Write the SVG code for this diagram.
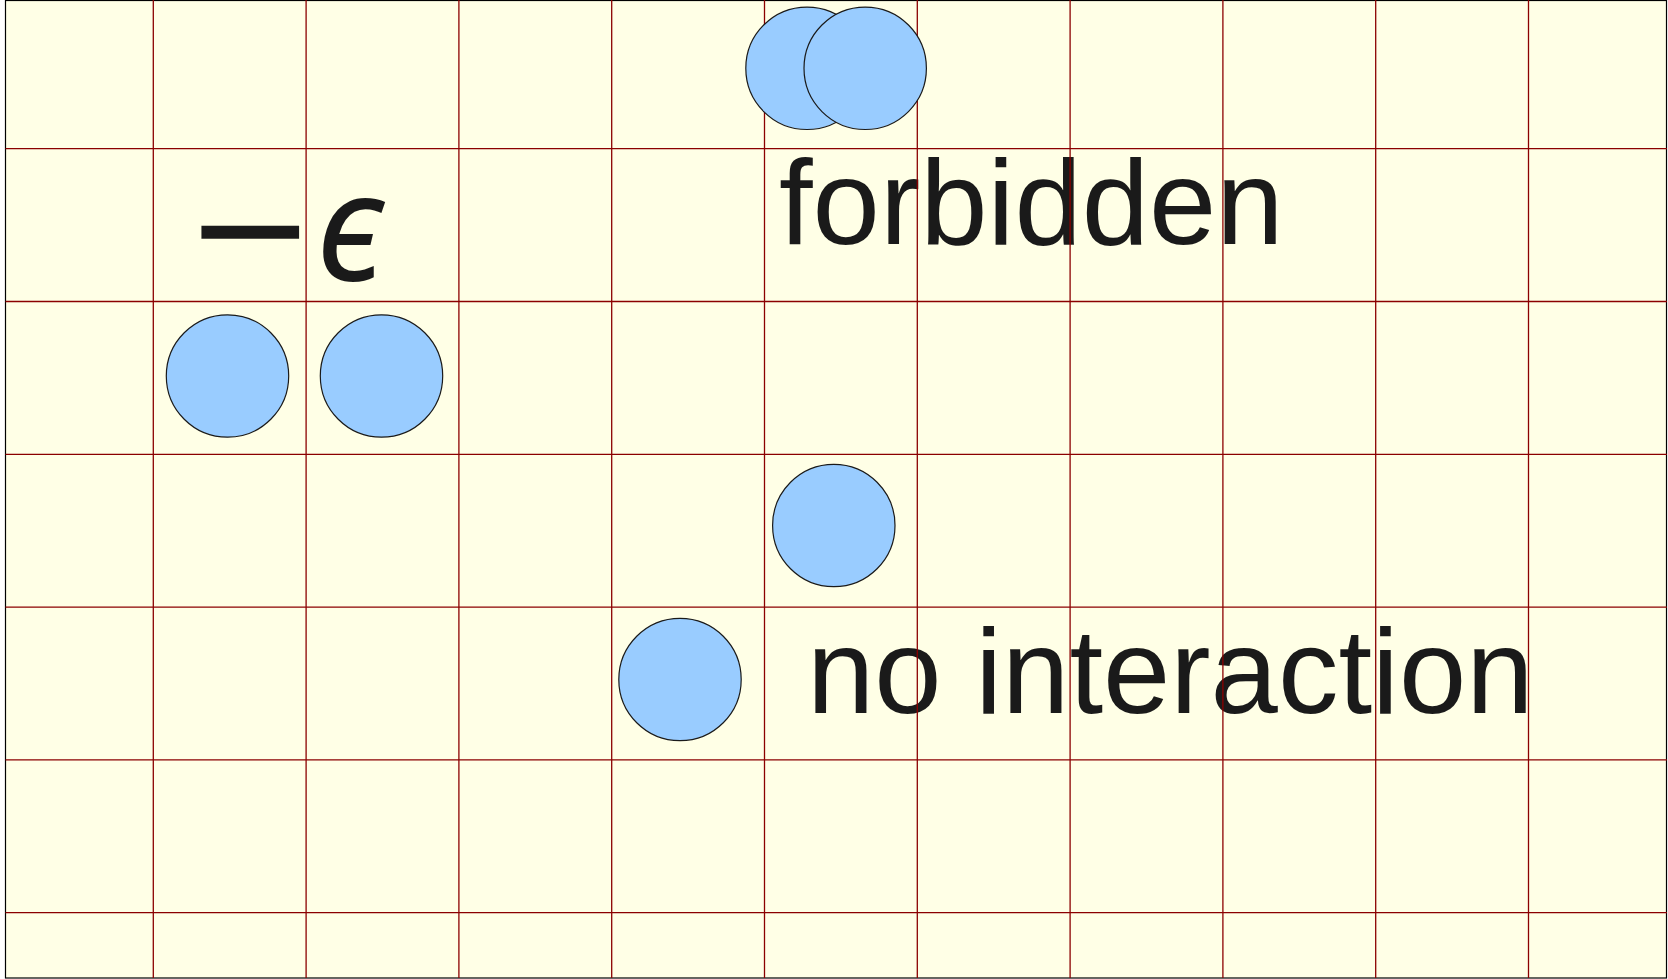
<svg xmlns="http://www.w3.org/2000/svg" width="1668" height="979" viewBox="0 0 1668 979">
<style>
.bg{fill:#ffffe6;stroke:#000;stroke-width:1.2}
.grid line{stroke:#8b0000;stroke-width:1.3}
.ball{fill:#99ccff;stroke:#1a1a1a;stroke-width:1.2}
.lbl{font-family:"Liberation Sans",Arial,sans-serif;font-size:121px;fill:#1a1a1a}
.math{font-family:"DejaVu Sans",sans-serif;font-size:156px;fill:#1a1a1a}
.eps{font-family:"Noto Sans","DejaVu Sans",sans-serif;font-size:150px;font-style:italic;fill:#1a1a1a}
</style>
<rect class="bg" x="5.5" y="0.5" width="1661" height="977.5"/>
<g id="label-epsilon">
<text class="math" x="185" y="281">−</text>
<text class="eps" x="316" y="281">ϵ</text>
</g>
<g id="label-forbidden"><text class="lbl" x="779" y="244">forbidden</text></g>
<g id="label-nointeraction"><text class="lbl" x="807" y="713">no interaction</text></g>
<g class="grid" id="grid">
<line x1="153.3" y1="0" x2="153.3" y2="978"/>
<line x1="306.1" y1="0" x2="306.1" y2="978"/>
<line x1="458.9" y1="0" x2="458.9" y2="978"/>
<line x1="611.7" y1="0" x2="611.7" y2="978"/>
<line x1="764.5" y1="0" x2="764.5" y2="978"/>
<line x1="917.3" y1="0" x2="917.3" y2="978"/>
<line x1="1070.1" y1="0" x2="1070.1" y2="978"/>
<line x1="1222.9" y1="0" x2="1222.9" y2="978"/>
<line x1="1375.7" y1="0" x2="1375.7" y2="978"/>
<line x1="1528.5" y1="0" x2="1528.5" y2="978"/>
<line x1="5.5" y1="148.7" x2="1667" y2="148.7"/>
<line x1="5.5" y1="301.5" x2="1667" y2="301.5"/>
<line x1="5.5" y1="454.3" x2="1667" y2="454.3"/>
<line x1="5.5" y1="607.1" x2="1667" y2="607.1"/>
<line x1="5.5" y1="759.9" x2="1667" y2="759.9"/>
<line x1="5.5" y1="912.7" x2="1667" y2="912.7"/>
</g>
<g id="ball-pair-left-a"><circle class="ball" cx="227.5" cy="376" r="61.2"/></g>
<g id="ball-pair-left-b"><circle class="ball" cx="381.5" cy="376" r="61.2"/></g>
<g id="ball-forbidden-a"><circle class="ball" cx="807" cy="68.3" r="61.2"/></g>
<g id="ball-forbidden-b"><circle class="ball" cx="865.2" cy="68.3" r="61.2"/></g>
<g id="ball-nointeraction-a"><circle class="ball" cx="833.8" cy="525.5" r="61.2"/></g>
<g id="ball-nointeraction-b"><circle class="ball" cx="680" cy="679.5" r="61.2"/></g>
<g id="connectors"/>
</svg>
